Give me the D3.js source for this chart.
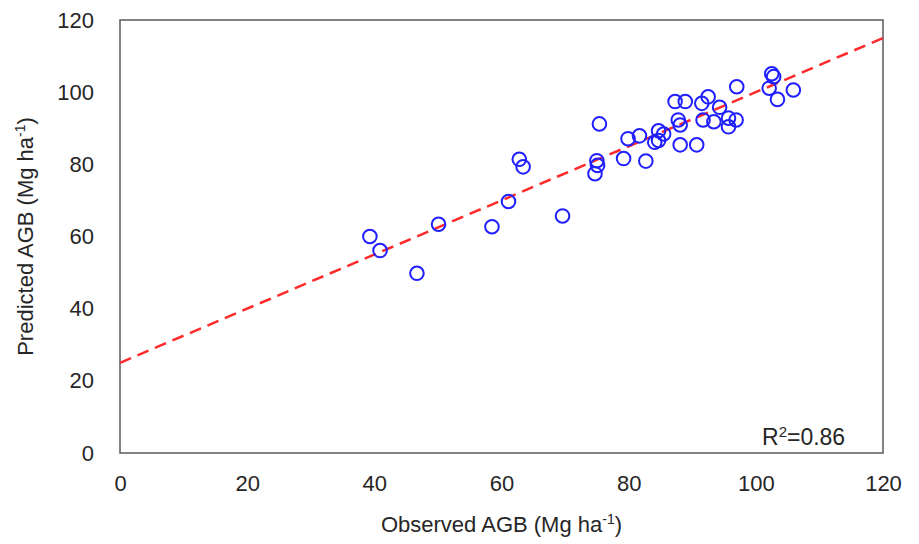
<!DOCTYPE html>
<html>
<head>
<meta charset="utf-8">
<script src="https://cdn.jsdelivr.net/npm/d3@7"></script>
<style>
  body { margin: 0; background: #fff; }
  svg text { font-family: "Liberation Sans", Arial, sans-serif; fill: #262626; }
</style>
</head>
<body>
<div id="chart"></div>
<script>
// observed vs predicted AGB (Mg ha-1)
const observed = [39.3, 40.9, 46.7, 50.1, 58.5, 61.1, 62.8, 63.4, 69.6, 74.7,
  75.0, 75.1, 75.4, 79.9, 81.7, 79.2, 82.7, 84.7, 85.5, 84.1,
  84.7, 87.8, 88.1, 88.1, 90.7, 87.3, 88.9, 92.5, 91.5, 94.3,
  97.0, 91.7, 93.4, 95.7, 96.9, 95.7, 102.5, 102.8, 102.1, 103.4, 105.9];
const predicted = [60.0, 56.1, 49.8, 63.4, 62.7, 69.7, 81.4, 79.3, 65.7, 77.4,
  81.0, 79.7, 91.2, 87.1, 87.9, 81.6, 80.9, 89.3, 88.4, 86.1,
  86.6, 92.3, 90.9, 85.4, 85.4, 97.4, 97.4, 98.7, 96.9, 95.8,
  101.5, 92.3, 91.8, 92.8, 92.3, 90.4, 105.1, 104.3, 101.1, 98.0, 100.6];
const xTicks = [0, 20, 40, 60, 80, 100, 120];
const yTicks = [0, 20, 40, 60, 80, 100, 120];
// fitted line: y = 25 + 0.75x
const fitX = [0, 120];
const fitY = [25, 115];

const width = 919, height = 544;
const margin = { top: 20, right: 36, bottom: 91, left: 120 };

const svg = d3.select('#chart')
  .append('svg')
  .attr('width', width)
  .attr('height', height);

const x = d3.scaleLinear().domain([0, 120]).range([margin.left, width - margin.right]);
const y = d3.scaleLinear().domain([0, 120]).range([height - margin.bottom, margin.top]);

// x axis labels
svg.append('g')
  .attr('transform', `translate(0, ${height - margin.bottom})`)
  .call(d3.axisBottom(x).tickValues(xTicks).tickSize(0).tickPadding(22))
  .call(g => g.select('.domain').remove())
  .selectAll('text')
  .style('font-size', '22px')
  .attr('font-family', null);

// y axis labels
svg.append('g')
  .attr('transform', `translate(${margin.left}, 0)`)
  .call(d3.axisLeft(y).tickValues(yTicks).tickSize(0).tickPadding(26))
  .call(g => g.select('.domain').remove())
  .selectAll('text')
  .style('font-size', '22px')
  .attr('font-family', null);

// plot frame
svg.append('rect')
  .attr('x', margin.left)
  .attr('y', margin.top)
  .attr('width', width - margin.left - margin.right)
  .attr('height', height - margin.top - margin.bottom)
  .attr('fill', 'none')
  .attr('stroke', '#595959')
  .attr('stroke-width', 1.5);

// regression line
svg.append('line')
  .attr('x1', x(fitX[0])).attr('y1', y(fitY[0]))
  .attr('x2', x(fitX[1])).attr('y2', y(fitY[1]))
  .attr('stroke', '#ff2a2a')
  .attr('stroke-width', 2.5)
  .attr('stroke-dasharray', '12,7');

// points
svg.selectAll('.pt')
  .data(observed.map((d, i) => [d, predicted[i]]))
  .enter()
  .append('circle')
  .attr('class', 'pt')
  .attr('cx', d => x(d[0]))
  .attr('cy', d => y(d[1]))
  .attr('r', 6.8)
  .attr('fill', 'none')
  .attr('stroke', '#1f1fff')
  .attr('stroke-width', 2);

// R2 label
const r2 = svg.append('text')
  .attr('x', 762)
  .attr('y', 445)
  .style('font-size', '23px');
r2.append('tspan').text('R');
r2.append('tspan').attr('dy', -8).style('font-size', '15px').text('2');
r2.append('tspan').attr('dy', 8).text('=0.86');

// axis titles
const xt = svg.append('text')
  .attr('x', (margin.left + width - margin.right) / 2)
  .attr('y', 532)
  .attr('text-anchor', 'middle')
  .style('font-size', '22px');
xt.append('tspan').text('Observed AGB (Mg ha');
xt.append('tspan').attr('dy', -8).style('font-size', '14px').text('-1');
xt.append('tspan').attr('dy', 8).text(')');

const yt = svg.append('text')
  .attr('transform', `translate(33, ${(margin.top + height - margin.bottom) / 2}) rotate(-90)`)
  .attr('text-anchor', 'middle')
  .style('font-size', '22px');
yt.append('tspan').text('Predicted AGB (Mg ha');
yt.append('tspan').attr('dy', -8).style('font-size', '14px').text('-1');
yt.append('tspan').attr('dy', 8).text(')');
</script>
</body>
</html>
